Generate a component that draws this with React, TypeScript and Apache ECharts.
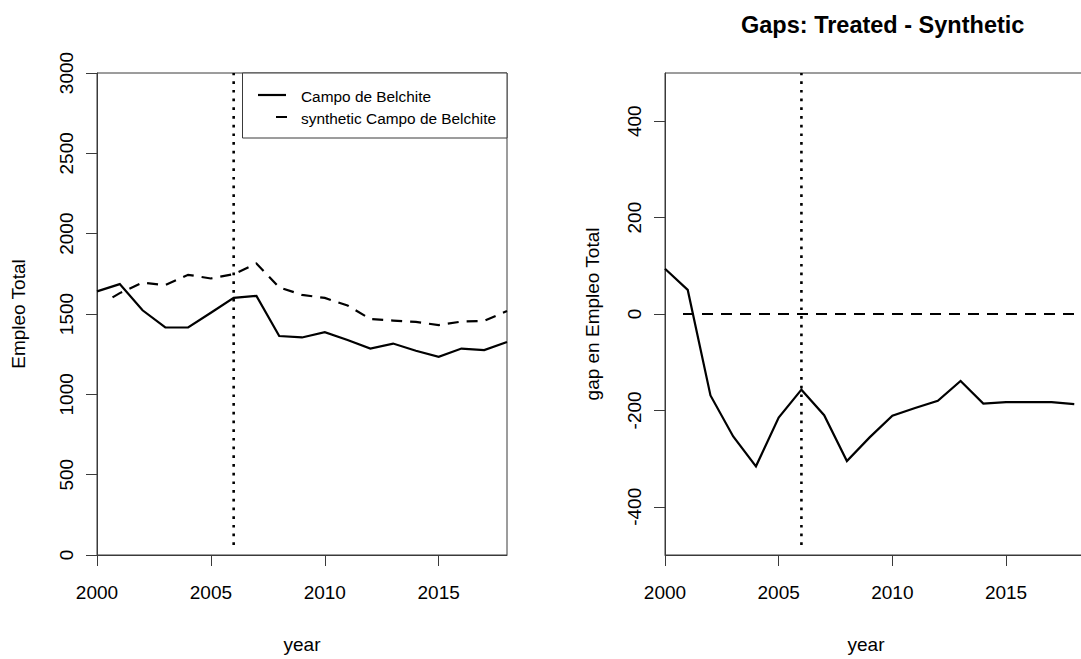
import React, { useEffect, useRef } from "react";
import * as echarts from "echarts";

// ---- data ----
const YEARS = [2000, 2001, 2002, 2003, 2004, 2005, 2006, 2007, 2008, 2009, 2010, 2011, 2012, 2013, 2014, 2015, 2016, 2017, 2018];
const TREATED = [1641, 1686, 1523, 1416, 1416, 1508, 1600, 1613, 1363, 1354, 1387, 1338, 1285, 1316, 1271, 1234, 1285, 1275, 1326];
const SYNTHETIC = [1547, 1630, 1695, 1680, 1744, 1721, 1748, 1814, 1666, 1619, 1600, 1553, 1469, 1459, 1451, 1431, 1453, 1457, 1518];
const GAP = [94, 50, -169, -254, -316, -215, -157, -210, -305, -256, -211, -195, -180, -139, -186, -183, -183, -183, -187];
const TREATMENT_YEAR = 2006;

const X_TICKS = [2000, 2005, 2010, 2015];
const LEFT_Y_TICKS = [0, 500, 1000, 1500, 2000, 2500, 3000];
const RIGHT_Y_TICKS = [-400, -200, 0, 200, 400];
const LEFT_X_RANGE = [2000, 2018];
const RIGHT_X_RANGE = [2000, 2019];
const LEFT_Y_RANGE = [0, 3000];
const RIGHT_Y_RANGE = [-500, 500];

const TREATED_NAME = "Campo de Belchite";
const SYNTHETIC_NAME = "synthetic Campo de Belchite";
const TITLE = "Gaps: Treated - Synthetic";

// ---- style helpers ----
const FONT = "'Liberation Sans', Arial, Helvetica, sans-serif";
const AXIS_COLOR = "#3a3a3a";

function pattern(initialGap: number, on: number, off: number, total: number): number[] {
  const out: number[] = [0, initialGap];
  let len = initialGap;
  while (len < total) {
    out.push(on, off);
    len += on + off;
  }
  return out;
}
const DASHED = pattern(18, 11, 8, 1200);
const DOTTED = pattern(10, 2.7, 6, 700);

const plain = (v: number) => String(v);

function xAxis(gridIndex: number, range: number[], nameShift: number) {
  return {
    type: "value",
    gridIndex,
    min: range[0],
    max: range[1],
    name: "year",
    nameLocation: "middle",
    nameGap: 80,
    nameTextStyle: {
      fontFamily: FONT,
      fontSize: 19,
      color: "#000",
      padding: nameShift > 0 ? [0, nameShift * 2, 0, 0] : [0, 0, 0, 0],
    },
    axisLine: { show: true, onZero: false, lineStyle: { color: AXIS_COLOR, width: 1 } },
    axisTick: { show: true, length: 11, inside: false, customValues: X_TICKS, lineStyle: { color: AXIS_COLOR, width: 1 } },
    axisLabel: { show: true, margin: 28, customValues: X_TICKS, formatter: plain, fontFamily: FONT, fontSize: 19, color: "#000" },
    splitLine: { show: false },
  };
}

function yAxis(gridIndex: number, range: number[], ticks: number[], name: string, nameGap: number) {
  return {
    type: "value",
    gridIndex,
    min: range[0],
    max: range[1],
    name,
    nameLocation: "middle",
    nameGap,
    nameTextStyle: { fontFamily: FONT, fontSize: 19, color: "#000" },
    axisLine: { show: true, onZero: false, lineStyle: { color: AXIS_COLOR, width: 1 } },
    axisTick: { show: true, length: 11, inside: false, customValues: ticks, lineStyle: { color: AXIS_COLOR, width: 1 } },
    axisLabel: { show: true, rotate: 90, margin: 21, customValues: ticks, formatter: plain, fontFamily: FONT, fontSize: 19, color: "#000" },
    splitLine: { show: false },
  };
}

function lineSeries(xi: number, data: number[][], type: any, width = 2.2) {
  return {
    type: "line",
    xAxisIndex: xi,
    yAxisIndex: xi,
    data,
    symbol: "none",
    silent: true,
    clip: true,
    lineStyle: { color: "#000", width, type, cap: "butt", join: "miter" },
  };
}

export default function App() {
  const ref = useRef<HTMLDivElement>(null);

  useEffect(() => {
    if (!ref.current) return;
    const chart = echarts.init(ref.current, undefined, { renderer: "svg" });

    const treated = YEARS.map((y, i) => [y, TREATED[i]]);
    const synthetic = YEARS.map((y, i) => [y, SYNTHETIC[i]]);
    const gap = YEARS.map((y, i) => [y, GAP[i]]);

    chart.setOption({
      animation: false,
      backgroundColor: "#fff",
      title: {
        text: TITLE,
        left: 736,
        top: 8,
        textStyle: { fontFamily: FONT, fontSize: 23.5, fontWeight: "bold", color: "#000" },
      },
      grid: [
        { left: 97, top: 73, width: 410, height: 488, show: true, borderColor: AXIS_COLOR, borderWidth: 1, backgroundColor: "transparent" },
        { left: 665, top: 73, width: 432, height: 488, show: true, borderColor: AXIS_COLOR, borderWidth: 1, backgroundColor: "transparent" },
      ],
      xAxis: [xAxis(0, LEFT_X_RANGE, 0), xAxis(1, RIGHT_X_RANGE, 15)],
      yAxis: [
        yAxis(0, LEFT_Y_RANGE, LEFT_Y_TICKS, "Empleo Total", 69),
        yAxis(1, RIGHT_Y_RANGE, RIGHT_Y_TICKS, "gap en Empleo Total", 63),
      ],
      series: [
        lineSeries(0, treated, "solid"),
        lineSeries(0, synthetic, DASHED),
        lineSeries(0, [[TREATMENT_YEAR, LEFT_Y_RANGE[0]], [TREATMENT_YEAR, LEFT_Y_RANGE[1]]], DOTTED, 2.6),
        lineSeries(1, gap, "solid"),
        lineSeries(1, [[RIGHT_X_RANGE[0], 0], [RIGHT_X_RANGE[1], 0]], DASHED),
        lineSeries(1, [[TREATMENT_YEAR, RIGHT_Y_RANGE[0]], [TREATMENT_YEAR, RIGHT_Y_RANGE[1]]], DOTTED, 2.6),
      ],
      graphic: [
        {
          type: "group",
          children: [
            { type: "rect", shape: { x: 242.5, y: 73, width: 264.5, height: 65 }, style: { fill: "#fff", stroke: AXIS_COLOR, lineWidth: 1 }, z: 10 },
            { type: "line", shape: { x1: 258, y1: 95, x2: 286, y2: 95 }, style: { stroke: "#000", lineWidth: 2.2 }, z: 11 },
            { type: "line", shape: { x1: 258, y1: 117, x2: 287, y2: 117 }, style: { stroke: "#000", lineWidth: 2.2, lineDash: [0, 18, 11, 8] }, z: 11 },
            { type: "text", x: 301, y: 96, style: { text: TREATED_NAME, fontFamily: FONT, fontSize: 15.4, fill: "#000", verticalAlign: "middle" }, z: 11 },
            { type: "text", x: 301, y: 118, style: { text: SYNTHETIC_NAME, fontFamily: FONT, fontSize: 15.4, fill: "#000", verticalAlign: "middle" }, z: 11 },
          ],
        },
      ],
    });

    return () => chart.dispose();
  }, []);

  return (
    <div
      ref={ref}
      style={{ position: "fixed", left: 0, top: 0, width: 1110, height: 659, background: "#fff" }}
    />
  );
}
